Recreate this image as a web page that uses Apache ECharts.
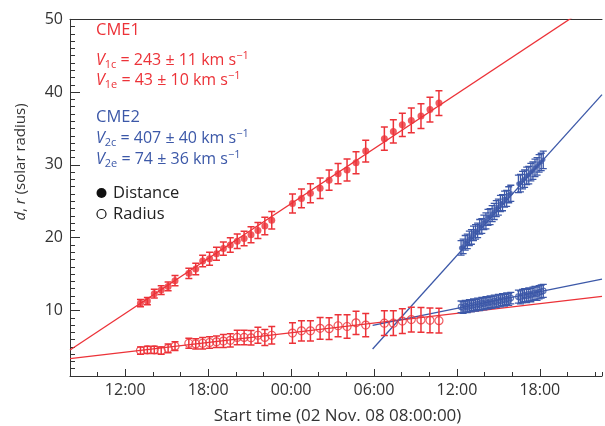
<!DOCTYPE html>
<html><head><meta charset="utf-8">
<script src="https://cdn.jsdelivr.net/npm/echarts@6/dist/echarts.min.js"></script>
<style>html,body{margin:0;padding:0;background:#fff}#c{width:605px;height:426px}</style>
</head><body><div id="c"></div>
<script>
// ---- data (x = hours since 02 Nov 08:00) ----
const redHours = [5.1,5.6,6.1,6.6,7.1,7.6,8.6,9.1,9.6,10.1,10.6,11.1,11.6,12.1,12.6,13.1,13.6,14.1,14.6,16.1,16.75,17.4,18.1,18.75,19.4,20.05,20.7,21.4,22.75,23.4,24.05,24.7,25.4,26.05,26.7];
const redDist = [11.0,11.3,12.3,12.8,13.3,14.1,15.1,15.7,16.8,17.1,17.8,18.5,19.0,19.5,19.9,20.4,21.0,21.6,22.4,24.7,25.4,26.1,26.8,27.9,28.8,29.3,30.3,31.9,33.6,34.6,35.5,36.1,36.7,37.6,38.5];
const redDistErr = [0.5,0.5,0.6,0.6,0.6,0.7,0.7,0.8,0.8,0.9,0.9,0.9,1.0,1.0,1.0,1.1,1.1,1.2,1.2,1.3,1.3,1.3,1.4,1.4,1.4,1.5,1.5,1.5,1.6,1.6,1.6,1.7,1.7,1.7,1.7];
const redRad = [4.5,4.6,4.6,4.5,4.8,5.1,5.5,5.4,5.5,5.6,5.7,5.8,5.9,6.3,6.3,6.25,6.6,6.3,6.6,6.9,7.2,7.2,7.55,7.5,7.9,7.8,8.3,8.0,8.25,8.25,8.55,8.75,8.7,8.65,8.6];
const redRadErr = [0.5,0.5,0.5,0.5,0.6,0.6,0.7,0.7,0.8,0.8,0.8,0.9,0.9,1.0,1.0,1.0,1.1,1.1,1.2,1.4,1.4,1.4,1.5,1.5,1.5,1.6,1.6,1.6,1.7,1.7,1.7,1.7,1.7,1.7,1.7];

const blueHours = [28.30,28.45,28.60,28.75,28.90,29.05,29.20,29.35,29.50,29.65,29.80,29.95,30.10,30.25,30.40,30.55,30.70,30.85,31.00,31.15,31.30,31.45,31.60,31.75,31.90,32.45,32.60,32.75,32.90,33.05,33.20,33.35,33.50,33.65,33.80,33.95,34.10,34.25];
const blueDist = [18.6,18.8,19.3,19.5,19.9,20.1,20.6,20.8,21.0,21.5,21.6,22.1,22.3,22.8,22.9,23.3,23.6,24.0,24.2,24.7,24.8,25.3,25.4,25.9,26.1,27.4,27.5,27.9,28.1,28.5,28.6,29.0,29.2,29.6,29.8,30.2,30.4,30.7];
const blueDistErr = [1.0,1.0,1.0,1.0,1.0,1.0,1.0,1.0,1.0,1.0,1.0,1.0,1.1,1.1,1.1,1.1,1.1,1.1,1.1,1.1,1.1,1.1,1.1,1.1,1.1,1.2,1.2,1.2,1.2,1.2,1.2,1.2,1.2,1.2,1.2,1.2,1.2,1.2];
const blueRad = [10.5,10.4,10.6,10.5,10.7,10.6,10.8,10.7,10.9,10.8,11.0,10.9,11.1,11.0,11.2,11.1,11.3,11.2,11.4,11.3,11.5,11.4,11.6,11.5,11.7,11.9,11.8,12.0,12.1,12.0,12.2,12.1,12.3,12.4,12.3,12.5,12.6,12.7];
const blueRadErr = [0.8,0.8,0.8,0.8,0.8,0.8,0.8,0.8,0.8,0.8,0.8,0.8,0.8,0.8,0.8,0.8,0.8,0.8,0.8,0.8,0.8,0.8,0.8,0.8,0.8,0.9,0.9,0.9,0.9,0.9,0.9,0.9,0.9,0.9,0.9,0.9,0.9,0.9];

// fitted lines (end points)
const fitRedDist = [[0,4.57],[38.5,52.96]];
const fitRedRad = [[0,3.38],[38.5,11.94]];
const fitBlueDist = [[21.9,4.71],[38.5,39.65]];
const fitBlueRad = [[21.9,7.96],[38.5,14.32]];

// ticks
const xTickHours = [4,10,16,22,28,34];
const xTickLabels = ['12:00','18:00','00:00','06:00','12:00','18:00'];
const yTickValues = [10,20,30,40,50];
const yTickLabels = ['10','20','30','40','50'];

// ---- chart ----
const RED = '#ec3238', BLUE = '#3c58a8', INK = '#333';
const F = '"Open Sans", "Noto Sans", sans-serif';
const X_MIN = 0, X_MAX = 38.5, Y_MIN = 1, Y_MAX = 50;

const halfHours = [];
for (let i = 0; i <= (X_MAX - X_MIN) * 2; i++) halfHours.push(String(i / 2));
const unitSteps = [];
for (let i = Y_MIN; i <= Y_MAX; i++) unitSteps.push(String(i));

function errSeries(hrs, vals, errs, color, cap, lw) {
  return {
    type: 'custom', silent: true, z: 3, clip: true,
    data: hrs.map((h, i) => [h, vals[i], errs[i]]),
    renderItem: (params, api) => {
      const x = api.value(0), y = api.value(1), e = api.value(2);
      const p1 = api.coord([x, y + e]), p2 = api.coord([x, y - e]);
      const st = { stroke: color, lineWidth: lw };
      return { type: 'group', children: [
        { type: 'line', shape: { x1: p1[0], y1: p1[1], x2: p2[0], y2: p2[1] }, style: st },
        { type: 'line', shape: { x1: p1[0] - cap, y1: p1[1], x2: p1[0] + cap, y2: p1[1] }, style: st },
        { type: 'line', shape: { x1: p2[0] - cap, y1: p2[1], x2: p2[0] + cap, y2: p2[1] }, style: st }
      ]};
    }
  };
}
function pts(hrs, vals, size, color, open) {
  return {
    type: 'scatter', silent: true, z: 4, symbol: 'circle', symbolSize: size,
    data: hrs.map((h, i) => [h, vals[i]]),
    itemStyle: open ? { color: 'rgba(0,0,0,0)', borderColor: color, borderWidth: 1.2 } : { color: color },
    emphasis: { disabled: true }
  };
}
function fit(data, color) {
  return { type: 'line', data: data, symbol: 'none', silent: true, z: 2,
    lineStyle: { color: color, width: 1.3 } };
}

function richV(sub, rest, color) {
  const base = { fontFamily: F, fill: color, color: color };
  return {
    text: '{v|V}{s|' + sub + '}{t| = ' + rest + ' km s}{p|\u22121}',
    fill: color, fontSize: 16, fontFamily: F, verticalAlign: 'middle', align: 'left',
    rich: {
      v: Object.assign({ fontStyle: 'italic', fontSize: 16, lineHeight: 20 }, base),
      s: Object.assign({ fontSize: 11, lineHeight: 11, verticalAlign: 'bottom' }, base),
      t: Object.assign({ fontSize: 16, lineHeight: 20 }, base),
      p: Object.assign({ fontSize: 11, lineHeight: 11, verticalAlign: 'top' }, base)
    }
  };
}

const chart = echarts.init(document.getElementById('c'), null, { renderer: 'canvas' });
chart.setOption({
  animation: false,
  backgroundColor: '#fff',
  grid: { left: 70, right: 0, top: 19.3, bottom: 50, containLabel: false },
  xAxis: [
    { type: 'value', min: X_MIN, max: X_MAX, interval: 2, position: 'bottom',
      axisLine: { show: true, lineStyle: { color: INK, width: 1 } },
      axisTick: { show: true, inside: true, length: 4, lineStyle: { color: INK } },
      axisLabel: { color: INK, fontSize: 16, fontFamily: F, margin: 6,
        formatter: v => { const i = xTickHours.indexOf(v); return i >= 0 ? xTickLabels[i] : ''; } },
      splitLine: { show: false } },
    { type: 'category', position: 'bottom', boundaryGap: false, data: halfHours,
      axisLine: { show: false },
      axisTick: { show: true, inside: true, length: 7, lineStyle: { color: INK },
        interval: (i) => xTickHours.indexOf(i / 2) >= 0 },
      axisLabel: { show: false }, splitLine: { show: false } },
    { type: 'value', min: X_MIN, max: X_MAX, position: 'top',
      axisLine: { show: true, lineStyle: { color: INK, width: 1 } },
      axisTick: { show: false }, axisLabel: { show: false }, splitLine: { show: false } }
  ],
  yAxis: [
    { type: 'value', min: Y_MIN, max: Y_MAX, interval: 1, position: 'left',
      axisLine: { show: true, lineStyle: { color: INK, width: 1 } },
      axisTick: { show: true, inside: true, length: 5, lineStyle: { color: INK } },
      axisLabel: { color: INK, fontSize: 16, fontFamily: F, margin: 7,
        formatter: v => { const i = yTickValues.indexOf(v); return i >= 0 ? yTickLabels[i] : ''; } },
      splitLine: { show: false } },
    { type: 'category', position: 'left', boundaryGap: false, data: unitSteps,
      axisLine: { show: false },
      axisTick: { show: true, inside: true, length: 10, lineStyle: { color: INK },
        interval: (i) => yTickValues.indexOf(i + Y_MIN) >= 0 },
      axisLabel: { show: false }, splitLine: { show: false } }
  ],
  series: [
    fit(fitRedDist, RED), fit(fitRedRad, RED), fit(fitBlueDist, BLUE), fit(fitBlueRad, BLUE),
    errSeries(redHours, redDist, redDistErr, RED, 3.5, 1.5),
    errSeries(redHours, redRad, redRadErr, RED, 3.5, 1.5),
    errSeries(blueHours, blueDist, blueDistErr, BLUE, 3.5, 1.3),
    errSeries(blueHours, blueRad, blueRadErr, BLUE, 3.5, 1.3),
    pts(redHours, redDist, 7, RED, false),
    pts(redHours, redRad, 8, RED, true),
    pts(blueHours, blueDist, 4.5, BLUE, false),
    pts(blueHours, blueRad, 5.5, BLUE, true)
  ],
  graphic: [
    { type: 'text', x: 96, y: 30, style: { text: 'CME1', fill: RED, fontSize: 16.5, fontFamily: F, verticalAlign: 'middle' } },
    { type: 'text', x: 96, y: 60, style: richV('1c', '243 ± 11', RED) },
    { type: 'text', x: 96, y: 80, style: richV('1e', '43 ± 10', RED) },
    { type: 'text', x: 96, y: 117, style: { text: 'CME2', fill: BLUE, fontSize: 16.5, fontFamily: F, verticalAlign: 'middle' } },
    { type: 'text', x: 96, y: 138, style: richV('2c', '407 ± 40', BLUE) },
    { type: 'text', x: 96, y: 159, style: richV('2e', '74 ± 36', BLUE) },
    { type: 'circle', shape: { cx: 101.5, cy: 193, r: 5 }, style: { fill: '#111' } },
    { type: 'text', x: 113, y: 193, style: { text: 'Distance', fill: '#222', fontSize: 16.5, fontFamily: F, verticalAlign: 'middle' } },
    { type: 'circle', shape: { cx: 101.5, cy: 214, r: 4.5 }, style: { fill: '#fff', stroke: '#111', lineWidth: 1.2 } },
    { type: 'text', x: 113, y: 214, style: { text: 'Radius', fill: '#222', fontSize: 16.5, fontFamily: F, verticalAlign: 'middle' } },
    { type: 'text', x: 337.5, y: 416, style: { text: 'Start time (02 Nov. 08 08:00:00)', fill: INK, fontSize: 17, fontFamily: F, align: 'center', verticalAlign: 'middle' } },
    { type: 'text', x: 21, y: 162, rotation: Math.PI / 2,
      style: { text: '{i|d}, {i|r} (solar radius)', fill: INK, fontSize: 15, fontFamily: F, align: 'center', verticalAlign: 'middle',
        rich: { i: { fontStyle: 'italic', fontSize: 15, fontFamily: F, fill: INK, color: INK } } } }
  ]
});
</script>
</body></html>
